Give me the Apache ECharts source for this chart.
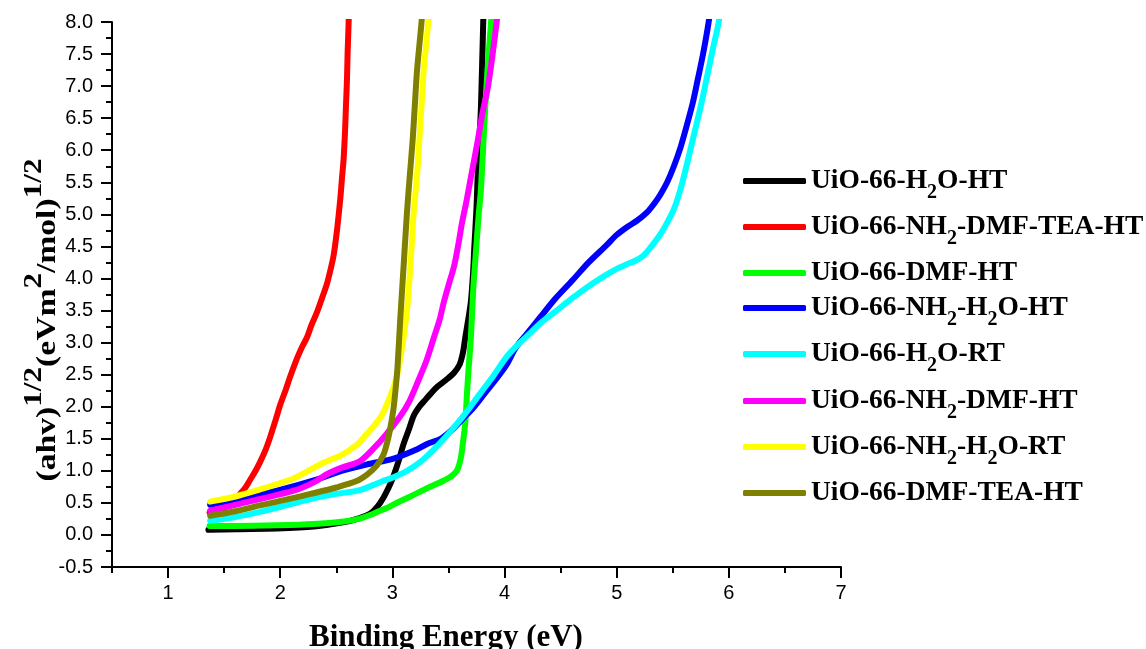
<!DOCTYPE html>
<html>
<head>
<meta charset="utf-8">
<script src="https://cdn.jsdelivr.net/npm/echarts@6/dist/echarts.min.js"></script>
<style>
html,body{margin:0;padding:0;background:#fff;}
#chart{width:1146px;height:649px;}
</style>
</head>
<body>
<div id="chart"></div>
<script>
// ---------------- data ----------------
const seriesNames = [
  'UiO-66-H2O-HT',
  'UiO-66-NH2-DMF-TEA-HT',
  'UiO-66-DMF-HT',
  'UiO-66-NH2-H2O-HT',
  'UiO-66-H2O-RT',
  'UiO-66-NH2-DMF-HT',
  'UiO-66-NH2-H2O-RT',
  'UiO-66-DMF-TEA-HT'
];
const seriesColors = ['#000000','#ff0000','#00ff00','#0000ff','#00ffff','#ff00ff','#ffff00','#808000'];

const h2oHT = [[1.36,0.08],[1.6,0.09],[1.97,0.1],[2.3,0.13],[2.57,0.2],[2.7,0.26],[2.8,0.33],[2.87,0.45],[2.92,0.58],[2.97,0.75],[3.01,0.92],[3.06,1.18],[3.1,1.42],[3.15,1.66],[3.19,1.86],[3.24,2.0],[3.28,2.08],[3.34,2.2],[3.4,2.31],[3.48,2.42],[3.55,2.53],[3.6,2.66],[3.63,2.85],[3.65,3.08],[3.68,3.4],[3.7,3.64],[3.72,4.1],[3.73,4.47],[3.75,5.1],[3.76,5.58],[3.78,6.3],[3.79,6.69],[3.81,8.0],[3.815,8.3]];
const nh2DmfTeaHT = [[1.37,0.35],[1.5,0.42],[1.6,0.55],[1.643,0.64],[1.69,0.74],[1.732,0.86],[1.78,1.0],[1.821,1.14],[1.87,1.33],[1.911,1.53],[1.96,1.8],[2.0,2.03],[2.05,2.27],[2.089,2.47],[2.149,2.75],[2.2,2.95],[2.238,3.08],[2.28,3.28],[2.327,3.47],[2.37,3.68],[2.417,3.92],[2.45,4.15],[2.476,4.36],[2.506,4.75],[2.536,5.25],[2.55,5.55],[2.565,5.86],[2.578,6.3],[2.586,6.69],[2.595,7.1],[2.601,7.53],[2.61,8.0],[2.612,8.3]];
const dmfHT = [[1.37,0.14],[1.6,0.14],[1.97,0.15],[2.3,0.17],[2.57,0.21],[2.7,0.25],[2.8,0.31],[2.88,0.37],[2.95,0.42],[3.05,0.51],[3.16,0.6],[3.3,0.72],[3.46,0.85],[3.53,0.92],[3.58,1.02],[3.61,1.2],[3.63,1.45],[3.65,1.75],[3.665,2.2],[3.68,2.6],[3.7,3.08],[3.72,3.8],[3.74,4.3],[3.77,5.0],[3.79,5.4],[3.82,6.42],[3.85,7.3],[3.88,8.0],[3.89,8.3]];
const nh2H2oHT = [[1.375,0.47],[1.6,0.55],[1.97,0.69],[2.3,0.85],[2.57,1.01],[2.8,1.11],[3.01,1.19],[3.2,1.32],[3.31,1.42],[3.43,1.5],[3.52,1.62],[3.61,1.78],[3.72,1.98],[3.82,2.2],[3.92,2.42],[4.02,2.66],[4.1,2.92],[4.2,3.14],[4.32,3.4],[4.45,3.68],[4.61,3.98],[4.75,4.25],[4.91,4.52],[5.0,4.68],[5.09,4.8],[5.18,4.9],[5.27,5.03],[5.34,5.18],[5.39,5.31],[5.45,5.5],[5.51,5.75],[5.57,6.05],[5.63,6.42],[5.68,6.75],[5.72,7.08],[5.77,7.5],[5.82,8.0],[5.84,8.3]];
const h2oRT = [[1.375,0.22],[1.6,0.28],[1.82,0.36],[2.05,0.46],[2.27,0.56],[2.5,0.64],[2.71,0.7],[2.9,0.83],[3.01,0.9],[3.13,1.0],[3.25,1.14],[3.35,1.3],[3.46,1.5],[3.57,1.72],[3.67,1.94],[3.78,2.2],[3.9,2.48],[4.02,2.78],[4.11,2.95],[4.2,3.1],[4.32,3.3],[4.45,3.48],[4.61,3.7],[4.75,3.88],[4.91,4.06],[5.0,4.15],[5.09,4.22],[5.17,4.28],[5.24,4.36],[5.3,4.48],[5.39,4.69],[5.45,4.87],[5.51,5.08],[5.57,5.4],[5.63,5.81],[5.69,6.25],[5.75,6.69],[5.8,7.1],[5.86,7.6],[5.91,8.0],[5.93,8.3]];
const nh2DmfHT = [[1.375,0.38],[1.6,0.47],[1.82,0.56],[2.12,0.69],[2.3,0.82],[2.42,0.95],[2.55,1.05],[2.71,1.15],[2.86,1.4],[2.95,1.58],[3.07,1.85],[3.15,2.08],[3.22,2.36],[3.3,2.7],[3.37,3.08],[3.42,3.35],[3.46,3.64],[3.51,3.95],[3.55,4.19],[3.59,4.55],[3.62,4.86],[3.66,5.2],[3.7,5.58],[3.76,6.14],[3.8,6.55],[3.85,6.97],[3.89,7.45],[3.93,8.0],[3.95,8.3]];
const nh2H2oRT = [[1.375,0.52],[1.6,0.6],[1.8,0.7],[2.09,0.86],[2.25,1.0],[2.39,1.13],[2.55,1.25],[2.68,1.4],[2.76,1.55],[2.83,1.69],[2.9,1.85],[2.95,2.03],[3.0,2.25],[3.04,2.47],[3.07,2.75],[3.1,3.08],[3.13,3.5],[3.15,3.92],[3.17,4.45],[3.19,5.03],[3.22,5.6],[3.24,6.14],[3.26,6.7],[3.28,7.25],[3.32,8.0],[3.33,8.3]];
const dmfTeaHT = [[1.375,0.3],[1.6,0.37],[1.82,0.46],[2.05,0.55],[2.27,0.64],[2.5,0.74],[2.68,0.84],[2.78,0.95],[2.86,1.08],[2.92,1.25],[2.95,1.42],[2.98,1.65],[3.01,1.97],[3.03,2.3],[3.045,2.6],[3.07,3.36],[3.1,4.19],[3.13,5.03],[3.155,5.6],[3.18,6.14],[3.2,6.7],[3.22,7.25],[3.26,8.0],[3.27,8.3]];

const seriesData = [h2oHT, nh2DmfTeaHT, dmfHT, nh2H2oHT, h2oRT, nh2DmfHT, nh2H2oRT, dmfTeaHT];

const xMajorTicks = [1,2,3,4,5,6,7];
const xMinorTicks = [0.5,1.5,2.5,3.5,4.5,5.5,6.5];
const xTitle = 'Binding Energy (eV)';

// ---------------- layout ----------------
const legendLineY = [189,235,281,316,362,409,455,501];
const serif = "'Times New Roman','Liberation Serif',serif";
const sans = "Arial,'Liberation Sans',sans-serif";

function toRich(name){
  return '{m|' + name.replace(/2/g, '}{s|2}{m|') + '}';
}

const chart = echarts.init(document.getElementById('chart'), null, {renderer:'canvas'});

const legends = seriesNames.map((n, i) => ({
  data: [n],
  orient: 'vertical',
  left: 743,
  top: legendLineY[i] - 22,
  padding: 0,
  itemWidth: 63,
  itemHeight: 6,
  icon: 'roundRect',
  formatter: toRich,
  textStyle: {
    color: '#000',
    fontFamily: serif,
    fontWeight: 'bold',
    fontSize: 27.5,
    rich: {
      m: {fontFamily: serif, fontWeight: 'bold', fontSize: 27.5, color: '#000', lineHeight: 44, verticalAlign: 'middle'},
      s: {fontFamily: serif, fontWeight: 'bold', fontSize: 20, color: '#000', height: 20, lineHeight: 20, verticalAlign: 'bottom'}
    }
  }
}));

const option = {
  animation: false,
  backgroundColor: '#ffffff',
  grid: {left: 112, right: 305, top: 22, bottom: 82, containLabel: false},
  legend: legends,
  xAxis: [
    {
      type: 'value', min: 0.5, max: 7, position: 'bottom',
      axisLine: {show: true, onZero: false, lineStyle: {color: '#000', width: 2}},
      axisTick: {show: true, customValues: xMajorTicks, length: 11, lineStyle: {color: '#000', width: 2}},
      axisLabel: {show: true, customValues: xMajorTicks, margin: 16, color: '#000', fontFamily: sans, fontSize: 20,
        formatter: v => String(Math.round(v))},
      splitLine: {show: false}
    },
    {
      type: 'value', min: 0.5, max: 7, position: 'bottom',
      axisLine: {show: false, onZero: false},
      axisTick: {show: true, customValues: xMinorTicks, length: 6, lineStyle: {color: '#000', width: 2}},
      axisLabel: {show: false},
      splitLine: {show: false}
    }
  ],
  yAxis: {
    type: 'value', min: -0.5, max: 8, interval: 0.5,
    axisLine: {show: true, onZero: false, lineStyle: {color: '#000', width: 2}},
    axisTick: {show: true, length: 11, lineStyle: {color: '#000', width: 2}},
    minorTick: {show: true, splitNumber: 2, length: 6, lineStyle: {color: '#000', width: 2}},
    axisLabel: {margin: 19, color: '#000', fontFamily: sans, fontSize: 20, formatter: v => v.toFixed(1)},
    splitLine: {show: false}
  },
  series: seriesNames.map((n, i) => ({
    name: n,
    type: 'line',
    xAxisIndex: 0,
    data: seriesData[i],
    showSymbol: false,
    symbol: 'none',
    smooth: 0.3,
    color: seriesColors[i],
    lineStyle: {color: seriesColors[i], width: 6, cap: 'round', join: 'round'},
    emphasis: {disabled: true}
  })),
  graphic: [
    {
      type: 'text', x: 48, y: 320, rotation: Math.PI / 2, scaleX: 1.2,
      style: {
        text: '{m|(ahv)}{s|1/2}{m|(eVm}{s|2}{m|/mol)}{s|1/2}',
        align: 'center', verticalAlign: 'middle',
        rich: {
          m: {fontFamily: serif, fontWeight: 'bold', fontSize: 28, fill: '#000', lineHeight: 54, verticalAlign: 'middle'},
          s: {fontFamily: serif, fontWeight: 'bold', fontSize: 26, fill: '#000', height: 26, lineHeight: 26, verticalAlign: 'top'}
        }
      }
    },
    {
      type: 'text', x: 446, y: 638,
      style: {text: xTitle, font: "bold 31px " + serif, fill: '#000', align: 'center', verticalAlign: 'middle'}
    }
  ]
};
chart.setOption(option);
</script>
</body>
</html>
